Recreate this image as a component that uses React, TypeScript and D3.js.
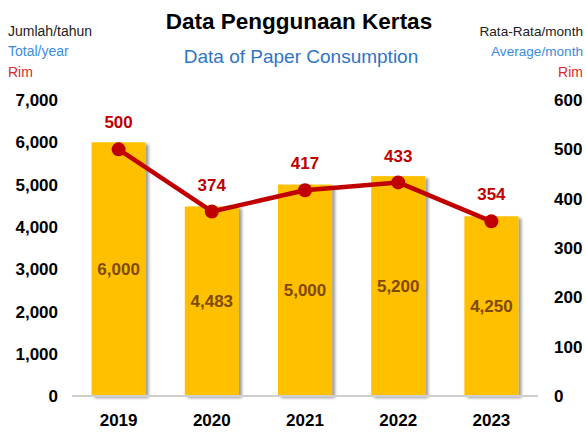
import React from "react";
import * as d3 from "d3";

const years = ["2019", "2020", "2021", "2022", "2023"];
const totals = [6000, 4483, 5000, 5200, 4250];
const averages = [500, 374, 417, 433, 354];
const leftTicks = [0, 1000, 2000, 3000, 4000, 5000, 6000, 7000];
const rightTicks = [0, 100, 200, 300, 400, 500, 600];

const W = 586;
const H = 432;
const FONT = "'Liberation Sans', Arial, sans-serif";

export default function App() {
  const x = d3.scaleBand<string>().domain(years).range([72, 538]).paddingInner(0.42).paddingOuter(0.21);
  const yL = d3.scaleLinear().domain([0, 7000]).range([396, 100]);
  const yR = d3.scaleLinear().domain([0, 600]).range([396, 100]);
  const fmt = d3.format(",");
  const line = d3
    .line<number>()
    .x((_, i) => (x(years[i]) as number) + x.bandwidth() / 2)
    .y((d) => yR(d));

  return (
    <svg width={W} height={H} style={{ position: "absolute", left: 0, top: 0 }} fontFamily={FONT}>
      <defs>
        <filter id="sh" x="-20%" y="-10%" width="150%" height="130%">
          <feGaussianBlur in="SourceAlpha" stdDeviation="1.5" />
          <feOffset dx="3" dy="2" result="b" />
          <feComponentTransfer>
            <feFuncA type="linear" slope="0.4" />
          </feComponentTransfer>
          <feMerge>
            <feMergeNode />
            <feMergeNode in="SourceGraphic" />
          </feMerge>
        </filter>
      </defs>
      <rect width={W} height={H} fill="#fff" />
      <text x={299} y={29} textAnchor="middle" fontSize={22.5} fontWeight="bold" fill="#000">
        Data Penggunaan Kertas
      </text>
      <text x={301} y={63} textAnchor="middle" fontSize={19} fill="#2E75C6">
        Data of Paper Consumption
      </text>

      <text x={8} y={36} fontSize={14} fill="#222">Jumlah/tahun</text>
      <text x={8} y={56} fontSize={14} fill="#3A8DDE">Total/year</text>
      <text x={8} y={77} fontSize={14} fill="#E02828">Rim</text>

      <text x={583} y={36} fontSize={13.6} fill="#222" textAnchor="end">Rata-Rata/month</text>
      <text x={583} y={56} fontSize={13.6} fill="#3A8DDE" textAnchor="end">Average/month</text>
      <text x={583} y={77} fontSize={14} fill="#E02828" textAnchor="end">Rim</text>

      {leftTicks.map((t) => (
        <text key={"l" + t} x={58} y={yL(t)} dy="0.36em" textAnchor="end" fontSize={17} fontWeight="bold" fill="#000">
          {fmt(t)}
        </text>
      ))}
      {rightTicks.map((t) => (
        <text key={"r" + t} x={554} y={yR(t)} dy="0.36em" textAnchor="start" fontSize={17} fontWeight="bold" fill="#000">
          {fmt(t)}
        </text>
      ))}

      {years.map((yr, i) => (
        <rect
          key={"b" + yr}
          x={x(yr)}
          y={yL(totals[i])}
          width={x.bandwidth()}
          height={yL(0) - yL(totals[i])}
          fill="#FFC000"
          filter="url(#sh)"
        />
      ))}
      <line x1={72} x2={538} y1={yL(0)} y2={yL(0)} stroke="#D0D0D0" strokeWidth={2} />

      {years.map((yr, i) => (
        <text
          key={"bl" + yr}
          x={(x(yr) as number) + x.bandwidth() / 2}
          y={(yL(totals[i]) + yL(0)) / 2}
          dy="0.36em"
          textAnchor="middle"
          fontSize={17}
          fontWeight="bold"
          fill="#7F4A00"
        >
          {fmt(totals[i])}
        </text>
      ))}

      {years.map((yr, i) => (
        <text key={"xl" + yr} x={(x(yr) as number) + x.bandwidth() / 2} y={420} dy="0.36em" textAnchor="middle" fontSize={17} fontWeight="bold" fill="#000">
          {yr}
        </text>
      ))}

      <path d={line(averages) || ""} fill="none" stroke="#C00000" strokeWidth={4.5} strokeLinejoin="round" />
      {averages.map((v, i) => {
        const cx = (x(years[i]) as number) + x.bandwidth() / 2;
        return (
          <g key={"p" + i}>
            <circle cx={cx} cy={yR(v)} r={7} fill="#C00000" />
            <text x={cx} y={yR(v) - 27} dy="0.36em" textAnchor="middle" fontSize={17} fontWeight="bold" fill="#C00000">
              {v}
            </text>
          </g>
        );
      })}
    </svg>
  );
}
